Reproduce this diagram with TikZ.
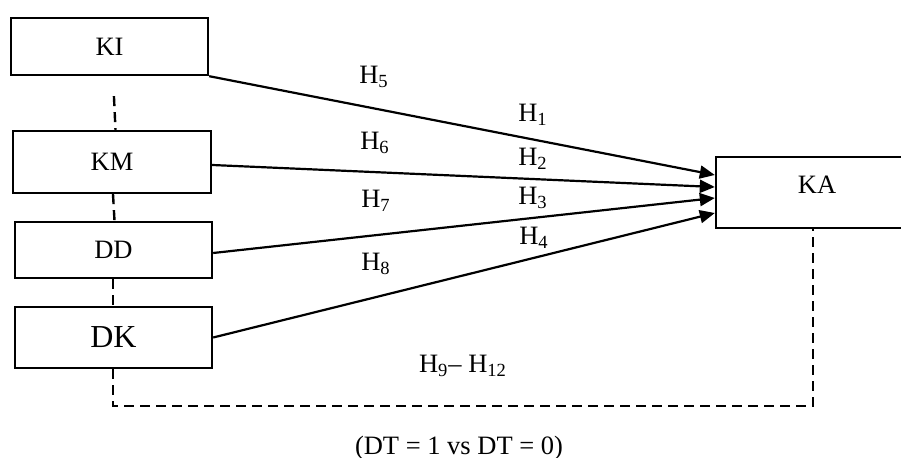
\documentclass[tikz,border=0pt]{standalone}
\usepackage{fontspec}
\setmainfont{Liberation Serif}
\usetikzlibrary{arrows.meta}
\tikzset{
  var/.style={draw, line width=1.2pt, inner sep=0pt, font=\fontsize{13.25}{15}\selectfont},
  path/.style={line width=1.1pt, -{Triangle[length=7.5pt,width=6.5pt]}},
  link/.style={line width=1.2pt, dash pattern=on 5pt off 3pt},
  hyp/.style={inner sep=0pt, font=\fontsize{13.25}{15}\selectfont}
}
\begin{document}
\begin{tikzpicture}[x=0.5pt, y=-0.5pt]
   \useasboundingbox (0,0) rectangle (901,458);
   \node[var, minimum width=98.5pt, minimum height=28.5pt] (KI) at (109.5,46.5) {KI};
   \node[var, minimum width=99pt, minimum height=31pt] (KM) at (112,162) {KM};
   \node[var, minimum width=98.5pt, minimum height=28pt] (DD) at (113.5,250) {DD};
   \node[var, minimum width=98.5pt, minimum height=30.5pt, font=\fontsize{16}{18}\selectfont] (DK) at (113.5,337.5) {DK};
   \node[var, minimum width=101pt, minimum height=35.5pt, text depth=7.5pt] (KA) at (817,192.5) {KA};
   % paths to KA
   \draw[path] (KI.south east) -- ([yshift=8.75pt]KA.west);
   \draw[path] ([yshift=-1.5pt]KM.east) -- ([yshift=2.75pt]KA.west);
   \draw[path] ([yshift=-1.5pt]DD.east) -- ([yshift=-2.75pt]KA.west);
   \draw[path] (DK.east) -- ([yshift=-10.25pt]KA.west);
   % moderating links
   \coordinate (c1) at (113,406);
   \coordinate (c2) at (813,406);
   \draw[link, shorten <=10pt] ([xshift=1.75pt]KI.south) -- ([xshift=1.75pt]KM.north);
   \draw[link] ([xshift=0.5pt]KM.south) -- ([xshift=0.5pt]DD.north);
   \draw[link] ([xshift=-0.25pt]DD.south) -- ([xshift=-0.25pt]DK.north);
   \draw[link] ([xshift=-0.25pt]DK.south) -- (c1) -- (c2) -- (c2 |- KA.south);
   % hypotheses
   \node[hyp] (h5) at (374,77) {H\textsubscript{5}};
   \node[hyp] (h1) at (533,115) {H\textsubscript{1}};
   \node[hyp] (h6) at (375,143) {H\textsubscript{6}};
   \node[hyp] (h2) at (533,159) {H\textsubscript{2}};
   \node[hyp] (h7) at (376,201) {H\textsubscript{7}};
   \node[hyp] (h3) at (533,198) {H\textsubscript{3}};
   \node[hyp] (h4) at (534,238) {H\textsubscript{4}};
   \node[hyp] (h8) at (376,264) {H\textsubscript{8}};
   \node[hyp] (h9) at (463,366) {H\textsubscript{9}– H\textsubscript{12}};
   \node[hyp] (dt) at (459,448) {(DT = 1 vs DT = 0)};
\end{tikzpicture}
\end{document}
